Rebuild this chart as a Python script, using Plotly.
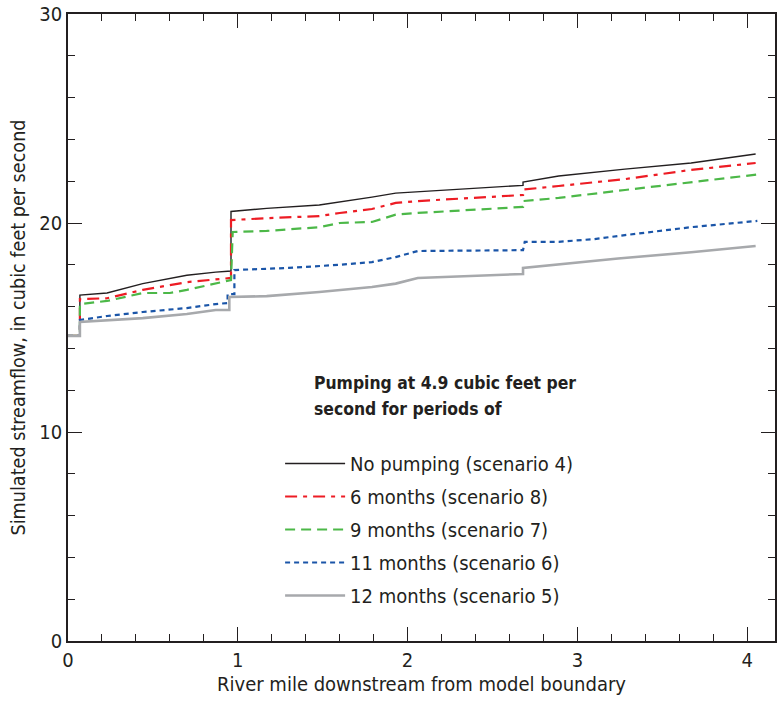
import plotly.graph_objects as go

# River mile (x) and simulated streamflow (y, cubic feet per second)
no_pump_x = [0, 0.07, 0.07, 0.23, 0.44, 0.70, 0.87, 0.96, 0.96, 1.17, 1.48, 1.60, 1.79, 1.93, 2.06, 2.68, 2.68, 2.89, 3.28, 3.67, 4.05]
no_pump_y = [14.6, 14.6, 16.55, 16.65, 17.1, 17.5, 17.65, 17.7, 20.55, 20.7, 20.86, 21.0, 21.24, 21.43, 21.5, 21.8, 21.96, 22.25, 22.58, 22.87, 23.3]

m6_x = [0, 0.07, 0.07, 0.23, 0.44, 0.70, 0.96, 0.96, 1.17, 1.48, 1.60, 1.79, 1.93, 2.06, 2.68, 2.68, 2.89, 3.28, 3.67, 4.05]
m6_y = [14.6, 14.6, 16.36, 16.4, 16.8, 17.17, 17.37, 20.14, 20.23, 20.33, 20.48, 20.67, 20.96, 21.05, 21.34, 21.6, 21.77, 22.1, 22.54, 22.87]

m9_x = [0, 0.07, 0.07, 0.23, 0.44, 0.60, 0.70, 0.87, 0.96, 0.97, 1.17, 1.48, 1.60, 1.79, 1.93, 2.06, 2.68, 2.68, 2.89, 3.28, 3.67, 4.08]
m9_y = [14.6, 14.6, 16.12, 16.27, 16.65, 16.65, 16.8, 17.1, 17.27, 19.57, 19.62, 19.8, 20.0, 20.05, 20.4, 20.48, 20.77, 21.05, 21.2, 21.58, 21.96, 22.34]

m11_x = [0, 0.07, 0.07, 0.23, 0.44, 0.70, 0.87, 0.94, 0.94, 0.98, 0.98, 1.30, 1.60, 1.79, 1.93, 2.06, 2.68, 2.69, 2.89, 3.10, 3.28, 3.67, 4.06]
m11_y = [14.6, 14.6, 15.36, 15.55, 15.74, 15.93, 16.12, 16.17, 16.6, 16.6, 17.75, 17.85, 18.0, 18.13, 18.37, 18.66, 18.7, 19.1, 19.1, 19.23, 19.42, 19.8, 20.1]

m12_x = [0, 0.07, 0.07, 0.44, 0.70, 0.87, 0.95, 0.95, 1.17, 1.48, 1.79, 1.93, 2.06, 2.68, 2.68, 3.24, 3.67, 4.05]
m12_y = [14.6, 14.6, 15.26, 15.45, 15.65, 15.84, 15.84, 16.46, 16.5, 16.7, 16.94, 17.1, 17.37, 17.56, 17.85, 18.3, 18.6, 18.9]

names = ["No pumping (scenario 4)", "6 months (scenario 8)", "9 months (scenario 7)",
         "11 months (scenario 6)", "12 months (scenario 5)"]
legend_title_lines = ["Pumping at 4.9 cubic feet per", "second for periods of"]
x_ticks = [0, 1, 2, 3, 4]
y_ticks = [0, 10, 20, 30]

FONT = "Liberation Sans Narrow, DejaVu Sans Condensed, Arial Narrow, sans-serif"
INK = "#231f20"

series = [
    (no_pump_x, no_pump_y, dict(color=INK, width=1.4, dash="solid")),
    (m6_x, m6_y, dict(color="#ed1c24", width=2.2, dash="12px,6px,4px,6px")),
    (m9_x, m9_y, dict(color="#4cb848", width=2.2, dash="10px,6px")),
    (m11_x, m11_y, dict(color="#1a55a8", width=2.2, dash="5px,4px")),
    (m12_x, m12_y, dict(color="#a7a9ac", width=2.6, dash="solid")),
]

fig = go.Figure()
for (xs, ys, ln), nm in zip(series, names):
    fig.add_trace(go.Scatter(x=xs, y=ys, mode="lines", name=nm, line=ln,
                             legendgroup=nm))

axis_common = dict(
    showline=True, linecolor=INK, linewidth=1.6, mirror="ticks",
    ticks="inside", ticklen=14, tickwidth=1.4, tickcolor=INK,
    showgrid=False, zeroline=False,
    tickfont=dict(family=FONT, size=20, color=INK),
)

fig.update_xaxes(
    range=[0, 4.164], tickvals=x_ticks,
    minor=dict(dtick=0.2, ticks="inside", ticklen=7, tickcolor=INK, tickwidth=1.2),
    title=dict(text="River mile downstream from model boundary",
               font=dict(family=FONT, size=20, color=INK), standoff=6),
    **axis_common,
)
fig.update_yaxes(
    range=[0, 30], tickvals=y_ticks,
    minor=dict(dtick=2, ticks="inside", ticklen=7, tickcolor=INK, tickwidth=1.2),
    title=dict(text="Simulated streamflow, in cubic feet per second",
               font=dict(family=FONT, size=19.6, color=INK), standoff=8),
    **axis_common,
)

for i, line in enumerate(legend_title_lines):
    fig.add_annotation(
        xref="paper", yref="paper", x=(313 - 68) / 710,
        y=(641 - (383 + 26 * i)) / 627,
        xanchor="left", yanchor="middle", align="left", showarrow=False,
        text="<b>" + line + "</b>",
        font=dict(family=FONT, size=17.4, color=INK),
    )

fig.update_layout(
    width=778, height=702,
    margin=dict(l=68, r=1, t=14, b=61),
    paper_bgcolor="white", plot_bgcolor="white",
    showlegend=True,
    legend=dict(
        x=(281 - 68) / 710, y=(641 - 444) / 627, xanchor="left", yanchor="top",
        bgcolor="rgba(0,0,0,0)", traceorder="grouped", tracegroupgap=4,
        itemwidth=60,
        font=dict(family=FONT, size=20, color=INK),
    ),
)

fig.write_html("out.html")
